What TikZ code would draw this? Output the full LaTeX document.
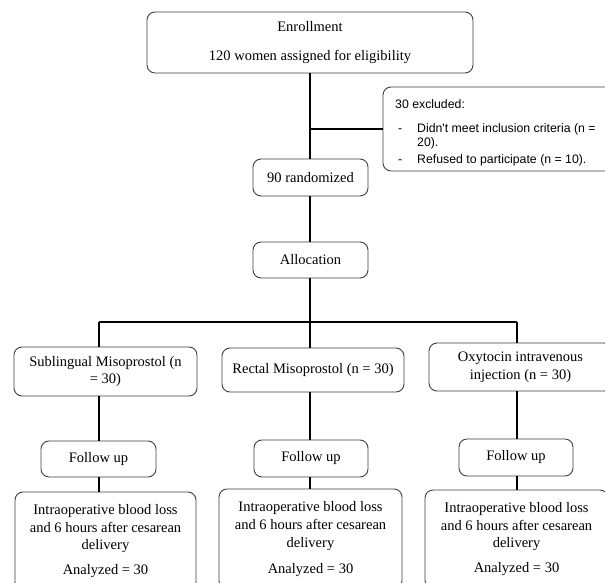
\documentclass[tikz,border=0pt]{standalone}
\usepackage{fontspec}
\setmainfont{Liberation Serif}
\newfontfamily\sansf{Liberation Sans}
\begin{document}
\begin{tikzpicture}[x=1pt,y=-1pt,
  box/.style={draw=black!75, line width=0.9pt, rounded corners=8pt, align=center,
    inner sep=2pt, font=\fontsize{14.5}{17.8}\selectfont},
  conn/.style={draw=black, line width=1.6pt},
  stxt/.style={font=\sansf\fontsize{12.3}{14}\selectfont, inner sep=0pt, anchor=base west}]
\useasboundingbox (0,0) rectangle (605,583);
\fill[white] (0,0) rectangle (605,583);

% boxes
\node[box, minimum width=326pt, minimum height=61pt] (enroll) at (310,42.5)
  {Enrollment\\[11pt]120 women assigned for eligibility};
\node[box, minimum width=230pt, minimum height=84pt] (excl) at (498,129) {};
\node[box, minimum width=115pt, minimum height=37pt] (rand) at (310.5,177.5) {90 randomized};
\node[box, minimum width=115pt, minimum height=36pt] (alloc) at (310.5,260) {Allocation};
\node[box, minimum width=183pt, minimum height=49pt] (sub) at (105.5,371.5)
  {Sublingual Misoprostol (n\\= 30)};
\node[box, minimum width=182pt, minimum height=44pt] (rect) at (313,370)
  {Rectal Misoprostol (n = 30)};
\node[box, minimum width=183pt, minimum height=48pt] (oxy) at (520.5,367)
  {Oxytocin intravenous\\injection (n = 30)};
\node[box, minimum width=115pt, minimum height=36pt] (fuL) at (98.5,459) {Follow up};
\node[box, minimum width=114pt, minimum height=37pt] (fuM) at (311,458.5) {Follow up};
\node[box, minimum width=114pt, minimum height=37pt] (fuR) at (516,457.5) {Follow up};
\node[box, minimum width=181pt, minimum height=98pt] (resL) at (105.5,541)
  {Intraoperative blood loss\\and 6 hours after cesarean\\delivery\\[7pt]Analyzed = 30};
\node[box, minimum width=183pt, minimum height=100pt] (resM) at (310.5,539)
  {Intraoperative blood loss\\and 6 hours after cesarean\\delivery\\[8pt]Analyzed = 30};
\node[box, minimum width=183pt, minimum height=98pt] (resR) at (516.5,539)
  {Intraoperative blood loss\\and 6 hours after cesarean\\delivery\\[7pt]Analyzed = 30};

% excluded texts
\node[stxt] (ex0) at (395,108.5) {30 excluded:};
\node[stxt] (exd1) at (398,132.5) {-};
\node[stxt] (ex1) at (417,132.5) {Didn't meet inclusion criteria (n =};
\node[stxt] (ex2) at (417,146.5) {20).};
\node[stxt] (exd2) at (398,163.5) {-};
\node[stxt] (ex3) at (417,163.5) {Refused to participate (n = 10).};

% connectors
\coordinate (jx) at (310,129);
\coordinate (jc) at (310,322);
\coordinate (jl) at (99,322);
\coordinate (jr) at (517,322);
\draw[conn] (enroll.south -| jx) -- (rand.north -| jx);
\draw[conn] (jx) -- (jx -| excl.west);
\draw[conn] (rand.south -| jx) -- (alloc.north -| jx);
\draw[conn] (alloc.south -| jc) -- (jc);
\draw[conn] (jl) -- (jr);
\draw[conn] (jl) -- (jl |- sub.north);
\draw[conn] (jc) -- (jc |- rect.north);
\draw[conn] (jr) -- (jr |- oxy.north);
\draw[conn] (sub.south -| jl) -- (fuL.north -| jl);
\draw[conn] (fuL.south -| jl) -- (resL.north -| jl);
\draw[conn] (rect.south -| jc) -- (fuM.north -| jc);
\draw[conn] (fuM.south -| jc) -- (resM.north -| jc);
\draw[conn] (oxy.south -| jr) -- (fuR.north -| jr);
\draw[conn] (fuR.south -| jr) -- (resR.north -| jr);
\end{tikzpicture}
\end{document}
